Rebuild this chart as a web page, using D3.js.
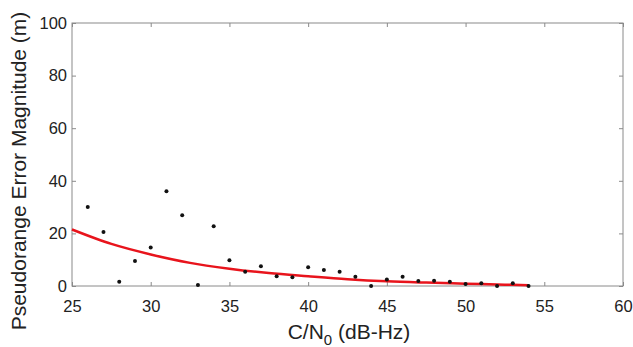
<!DOCTYPE html>
<html>
<head>
<meta charset="utf-8">
<script src="https://cdn.jsdelivr.net/npm/d3@7"></script>
<style>
  body { margin: 0; background: #fff; }
  text { font-family: "Liberation Sans", Arial, sans-serif; fill: #222; }
</style>
</head>
<body>
<figure id="chart" style="margin:0"></figure>
<script>
// measured C/N0 (dB-Hz) and pseudorange error (m)
const cn0 = [26, 27, 28, 29, 30, 31, 32, 33, 34, 35, 36, 37, 38, 39, 40,
             41, 42, 43, 44, 45, 46, 47, 48, 49, 50, 51, 52, 53, 54];
const errorMag = [30, 20.5, 1.6, 9.5, 14.6, 36, 26.9, 0.4, 22.7, 9.8, 5.4, 7.5, 3.7, 3.3, 7.1,
                  6.1, 5.4, 3.5, 0, 2.5, 3.5, 1.9, 2.0, 1.6, 0.8, 1.0, 0, 1.0, 0];

// fitted curve
const fitX = [25, 27.5, 30, 32.5, 35, 37.5, 40, 42.5, 45, 47.5, 50, 52.5, 54];
const fitY = [21.5, 16, 12, 8.8, 6.6, 4.9, 3.7, 2.6, 1.8, 1.3, 0.9, 0.5, 0.3];

const xTicks = [25, 30, 35, 40, 45, 50, 55, 60];
const yTicks = [0, 20, 40, 60, 80, 100];

const width = 633, height = 347;
const margin = { left: 72, right: 10, top: 23, bottom: 61 };
const innerW = width - margin.left - margin.right;
const innerH = height - margin.top - margin.bottom;

const svg = d3.select("figure#chart")
  .append("svg")
  .attr("width", width)
  .attr("height", height);

const g = svg.append("g")
  .attr("transform", "translate(" + margin.left + "," + margin.top + ")");

const x = d3.scaleLinear().domain([25, 60]).range([0, innerW]);
const y = d3.scaleLinear().domain([0, 100]).range([innerH, 0]);

const axisColor = "#8a8a8a";

// box
g.append("rect")
  .attr("width", innerW)
  .attr("height", innerH)
  .attr("fill", "none")
  .attr("stroke", axisColor)
  .attr("stroke-width", 1);

// bottom + left axes (ticks inside)
const xAxis = g.append("g")
  .attr("transform", "translate(0," + innerH + ")")
  .call(d3.axisBottom(x).tickValues(xTicks).tickSizeInner(-4).tickSizeOuter(0).tickPadding(10));
const yAxis = g.append("g")
  .call(d3.axisLeft(y).tickValues(yTicks).tickSizeInner(-4).tickSizeOuter(0).tickPadding(5));
// top + right ticks
const xTop = g.append("g")
  .call(d3.axisTop(x).tickValues(xTicks).tickSizeInner(-4).tickSizeOuter(0).tickFormat(""));
const yRight = g.append("g")
  .attr("transform", "translate(" + innerW + ",0)")
  .call(d3.axisRight(y).tickValues(yTicks).tickSizeInner(-4).tickSizeOuter(0).tickFormat(""));

[xAxis, yAxis, xTop, yRight].forEach(a => {
  a.select(".domain").remove();
  a.selectAll("line").attr("stroke", axisColor);
  a.selectAll("text")
    .attr("font-size", 16.5)
    .attr("font-family", "Liberation Sans, Arial, sans-serif")
    .attr("fill", "#222");
});
xAxis.selectAll("text").attr("dy", "0.71em").attr("y", 14);

// fitted curve
const line = d3.line()
  .x((d, i) => x(fitX[i]))
  .y(d => y(d))
  .curve(d3.curveMonotoneX);

g.append("path")
  .datum(fitY)
  .attr("d", line)
  .attr("fill", "none")
  .attr("stroke", "#e8141c")
  .attr("stroke-width", 2.5);

// measurement points
g.selectAll(".pt")
  .data(cn0)
  .enter()
  .append("circle")
  .attr("class", "pt")
  .attr("cx", d => x(d))
  .attr("cy", (d, i) => y(errorMag[i]))
  .attr("r", 2)
  .attr("fill", "#111");

// axis labels
const xl = svg.append("text")
  .attr("x", 349)
  .attr("y", 339)
  .attr("text-anchor", "middle")
  .attr("font-size", 21);
xl.append("tspan").text("C/N");
xl.append("tspan").attr("font-size", 15).attr("dy", 6).text("0");
xl.append("tspan").attr("dy", -6).text(" (dB-Hz)");

svg.append("text")
  .attr("transform", "translate(26,171) rotate(-90)")
  .attr("text-anchor", "middle")
  .attr("font-size", 21)
  .text("Pseudorange Error Magnitude (m)");
</script>
</body>
</html>
